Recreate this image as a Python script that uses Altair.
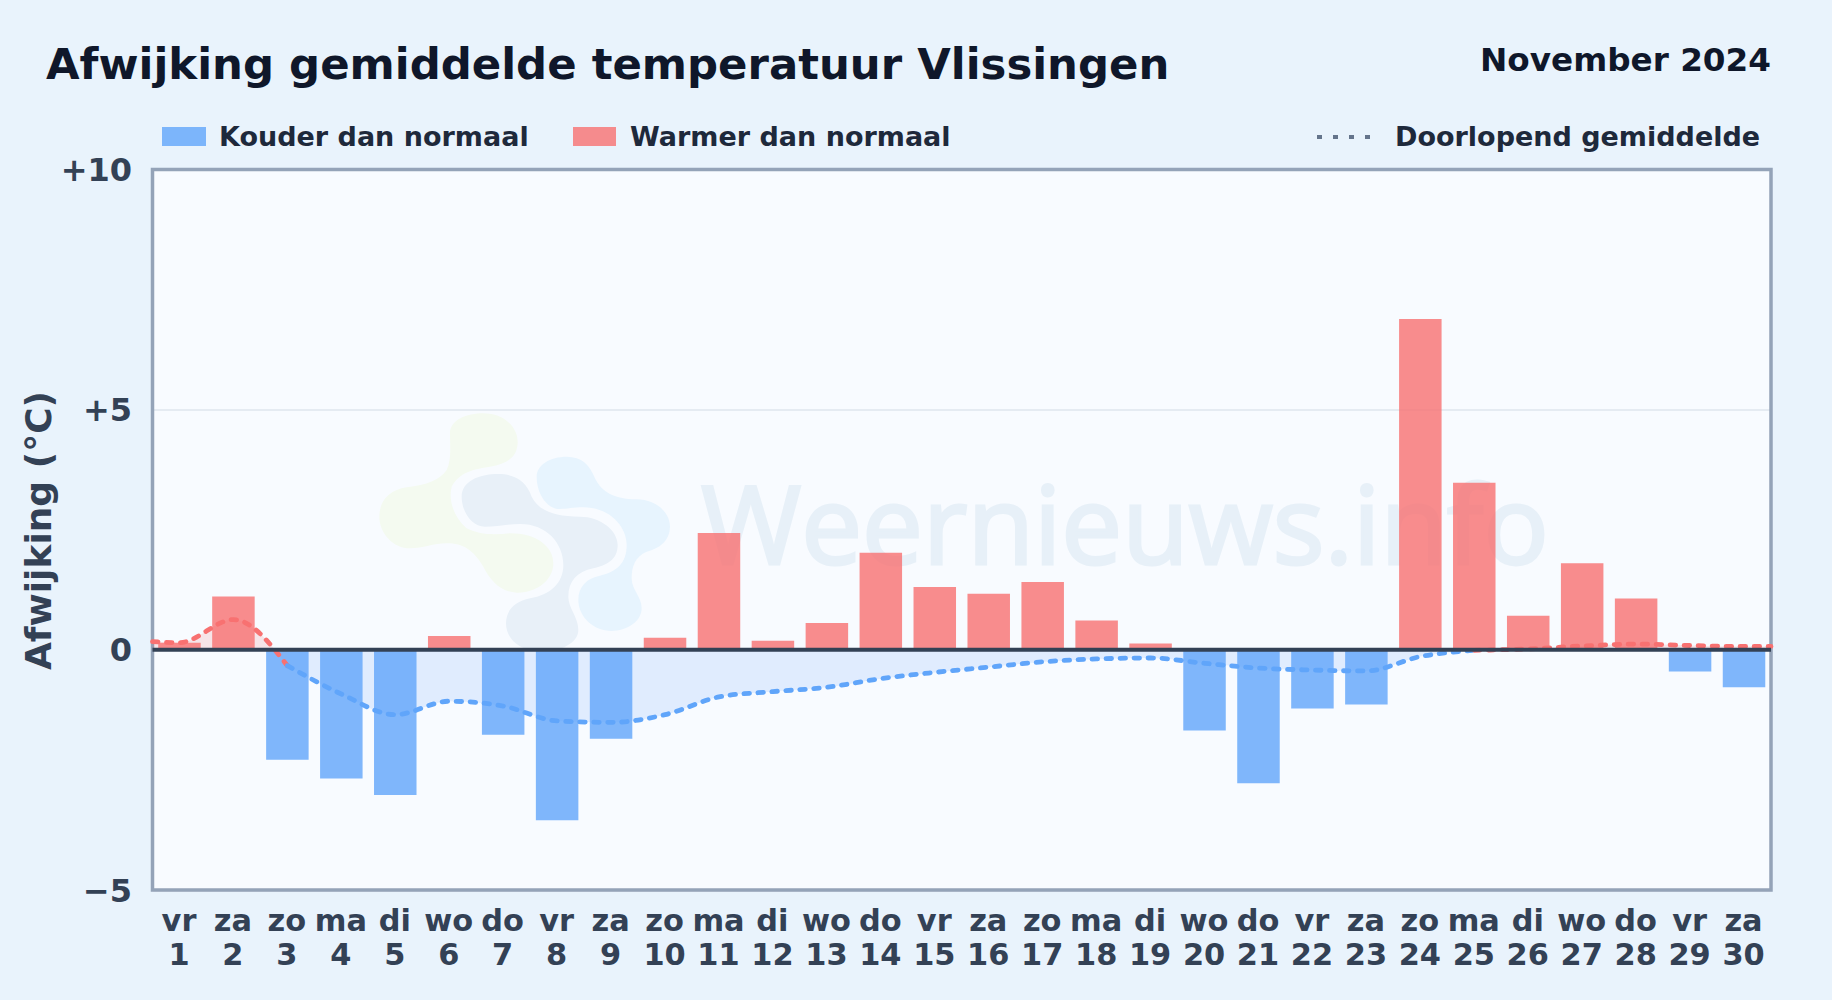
import altair as alt
import json
import pandas as pd

dagnamen = ["vr","za","zo","ma","di","wo","do","vr","za","zo","ma","di","wo","do","vr",
            "za","zo","ma","di","wo","do","vr","za","zo","ma","di","wo","do","vr","za"]
dagen = list(range(1, 31))
afwijking = [0.15, 1.11, -2.29, -2.68, -3.02, 0.29, -1.77, -3.55, -1.85, 0.25,
             2.43, 0.19, 0.56, 2.02, 1.31, 1.17, 1.41, 0.61, 0.13, -1.68,
             -2.78, -1.22, -1.14, 6.89, 3.48, 0.71, 1.80, 1.07, -0.45, -0.78]
gemiddelde_x = [0.5] + dagen + [30.5]
gemiddelde = [0.17, 0.15, 0.63, -0.33, -0.92, -1.35, -1.07, -1.17, -1.48, -1.51, -1.35,
              -0.98, -0.87, -0.78, -0.60, -0.47, -0.36, -0.25, -0.19, -0.17, -0.28,
              -0.38, -0.42, -0.44, -0.14, -0.01, 0.02, 0.08, 0.12, 0.09, 0.07, 0.07]
y_ticks = [-5, 0, 5, 10]
titel = "Afwijking gemiddelde temperatuur Vlissingen"
periode = "November 2024"
y_titel = "Afwijking (°C)"
legenda = ["Kouder dan normaal", "Warmer dan normaal", "Doorlopend gemiddelde"]
watermerk = "Weernieuws.info"

FONT = "DejaVu Sans"
OX, OY = 144.5 + 8, 161.5 + 8   # plot origin on the page
W, H = 1618.5, 720.5
BG = "#e9f3fc"

def px(v): return v - OX
def py(v): return v - OY

bars = pd.DataFrame({"dag": dagen, "v": afwijking, "nul": 0})
bars["teken"] = ["warm" if v > 0 else "koud" for v in afwijking]

rows = []
for x, v in zip(gemiddelde_x, gemiddelde):
    if x <= 3:
        rows.append({"dag": x, "v": v, "nul": 0, "seg": "a", "teken": "warm"})
    if 3 <= x <= 25:
        rows.append({"dag": x, "v": v, "nul": 0, "seg": "b", "teken": "koud"})
    if x >= 25:
        rows.append({"dag": x, "v": v, "nul": 0, "seg": "c", "teken": "warm"})
curve = pd.DataFrame(rows)

xs = alt.Scale(domain=[0.5, 30.5], nice=False, zero=False, padding=0)
ys = alt.Scale(domain=[-5, 10], nice=False, zero=False)
X = alt.X("dag:Q", scale=xs, title=None, axis=alt.Axis(
    values=dagen, grid=False, ticks=False, domain=False, labelOverlap=False,
    labelFlush=False, labelBound=False, labelPadding=16, labelOffset=-1,
    labelFont=FONT, labelFontWeight="bold", labelFontSize=30.4, labelColor="#334155",
    labelLineHeight=34.5, labelBaseline="top",
    labelExpr="[" + json.dumps(dagnamen) + "[datum.value-1], '' + datum.value]",
))
Y = alt.Y("v:Q", scale=ys, title=y_titel, axis=alt.Axis(
    values=y_ticks, grid=True, gridColor="#e5ebf2", gridWidth=2, ticks=False, domain=False,
    labelOverlap=False, labelFlush=False, labelBound=False, labelPadding=21, labelOffset=1,
    labelFont=FONT, labelFontWeight="bold", labelFontSize=32, labelColor="#334155",
    labelExpr="datum.value > 0 ? '+' + datum.value : datum.value < 0 ? '−' + abs(datum.value) : '0'",
    titleFont=FONT, titleFontWeight="bold", titleFontSize=36, titleColor="#334155",
    titleX=px(39), titleY=py(530), titleAlign="center", titleBaseline="middle",
))
Y2 = alt.Y2("nul:Q")

one = pd.DataFrame({"n": [0]})
base = alt.Chart(one)

def text(s, x, y, size, color, align="left", weight="bold", font=FONT, **kw):
    return base.mark_text(text=s, font=font, fontWeight=weight, fontSize=size, color=color,
                          align=align, baseline="alphabetic", **kw).encode(
        x=alt.value(px(x)), y=alt.value(py(y)))

def swatch(x1, x2, y1, y2, color):
    return base.mark_rect(color=color, opacity=0.8).encode(
        x=alt.value(px(x1)), x2=alt.value(px(x2)), y=alt.value(py(y1)), y2=alt.value(py(y2)))

def blob(path, color):
    # path is written in 3x pixels, relative to the logo corner
    return base.mark_point(filled=True, shape=path, size=4 / 9, color=color, opacity=1, strokeWidth=0).encode(
        x=alt.value(px(350)), y=alt.value(py(400)))

groen = "M300,100 C300,60 350,40 400,40 C460,40 505,80 503,130 C500,175 470,190 420,200 C370,208 330,215 305,260 C295,300 310,350 350,385 C390,405 430,405 480,400 C560,400 610,440 610,490 C610,540 560,580 500,578 C450,575 420,540 400,500 C370,450 340,430 290,430 C250,430 220,445 180,445 C130,445 88,400 88,350 C88,300 120,270 170,262 C230,255 270,240 290,210 C305,180 300,140 300,100 Z"
grijs = "M335,290 C335,245 385,222 445,222 C495,222 530,245 545,290 C565,330 610,350 690,350 C750,350 803,390 803,435 C803,480 770,495 730,505 C680,515 655,545 655,590 C655,625 685,650 685,690 C685,730 630,755 575,755 C515,755 468,720 468,670 C468,630 495,605 540,595 C600,585 640,550 640,495 C640,430 590,372 510,372 C470,372 440,380 405,380 C365,380 335,335 335,290 Z"
blauw = "M560,230 C560,195 600,170 650,170 C695,170 720,195 735,235 C755,275 790,298 860,298 C915,298 960,335 960,380 C960,420 930,445 890,455 C855,470 845,500 845,535 C845,570 875,590 875,625 C875,665 830,693 785,693 C730,693 685,650 685,600 C685,560 710,535 750,527 C800,515 830,490 830,435 C830,380 780,322 700,322 C670,322 650,327 630,327 C590,327 560,280 560,230 Z"

color_scale = alt.Scale(domain=["koud", "warm"], range=["#60a5fa", "#f87171"])

border = base.mark_rect(fillOpacity=0, stroke="#94a3b8", strokeWidth=3.5).encode(
    x=alt.value(0), x2=alt.value(W), y=alt.value(0), y2=alt.value(H))

bar_layer = alt.Chart(bars).mark_bar(orient="vertical", width=42.5, opacity=0.8).encode(
    x=X, y=Y, y2=Y2, color=alt.Color("teken:N", scale=color_scale, legend=None))

area_layer = alt.Chart(curve).mark_area(interpolate="monotone", opacity=0.12, orient="vertical").encode(
    x=alt.X("dag:Q", scale=xs), y=alt.Y("v:Q", scale=ys), y2=Y2, detail="seg:N",
    color=alt.Color("teken:N", scale=alt.Scale(domain=["koud", "warm"], range=["#3b82f6", "#ef4444"]), legend=None))

line_layer = alt.Chart(curve).mark_line(
    interpolate="monotone", strokeWidth=4.8, strokeDash=[5.5, 8.5], strokeCap="round", orient="vertical").encode(
    x=alt.X("dag:Q", scale=xs), y=alt.Y("v:Q", scale=ys), detail="seg:N",
    color=alt.Color("teken:N", scale=color_scale, legend=None))

zero_layer = base.mark_rule(color="#334155", size=4).encode(y=alt.datum(0, scale=ys))

chart = alt.layer(
    border,
    blob(groen, "#f4faf0"),
    blob(blauw, "#e7f4fe"),
    blob(grijs, "#e8f0f8"),
    text(watermerk, 701, 564, 108.5, "#e7f0f8", weight="normal", font="Open Sans",
         stroke="#e7f0f8", strokeWidth=3),
    area_layer,
    bar_layer,
    line_layer,
    zero_layer,
    text(titel, 46, 79, 43.4, "#0f172a"),
    text(periode, 1771, 71, 32.65, "#0f172a", align="right"),
    swatch(162, 206, 127, 146, "#60a5fa"),
    text(legenda[0], 219, 146, 27, "#1e293b"),
    swatch(573, 616, 127, 146, "#f87171"),
    text(legenda[1], 630, 146, 27, "#1e293b"),
    base.mark_rule(color="#64748b", strokeWidth=4, strokeDash=[5, 11]).encode(
        x=alt.value(px(1317)), x2=alt.value(px(1373)), y=alt.value(py(137))),
    text(legenda[2], 1395, 146, 27, "#1e293b"),
).resolve_scale(color="independent").properties(
    width=W, height=H,
    padding={"left": 144.5, "top": 161.5, "right": 53, "bottom": 102},
    autosize=alt.AutoSizeParams(type="none"),
    background=BG,
).configure_view(fill="#f8fbff", strokeWidth=0)

chart.save("out.html", embed_options={"renderer": "svg", "actions": False,
                                      "defaultStyle": "html,body{background:%s;overflow:hidden}svg{display:block}" % BG})
